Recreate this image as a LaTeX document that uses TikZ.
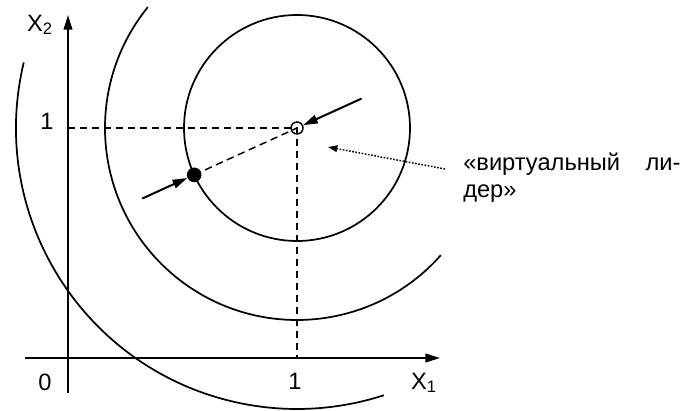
\documentclass[tikz,border=0pt]{standalone}
\usepackage{fontspec}
\setmainfont{Liberation Sans}
\usetikzlibrary{arrows.meta, positioning, calc}

\tikzset{
  curve/.style={line width=1.3pt},
  axis/.style={line width=1.4pt, -{Triangle[length=11pt, width=6.5pt]}},
  guide/.style={line width=1.1pt, dash pattern=on 5.5pt off 3.5pt},
  push/.style={line width=1.5pt, -{Triangle[length=11pt, width=6.5pt]}},
  pointer/.style={line width=1.1pt, dash pattern=on 1.2pt off 1.2pt, -{Triangle[length=7pt, width=5pt]}},
  leader/.style={circle, draw, line width=1.1pt, minimum size=9pt, inner sep=0pt},
  follower/.style={circle, fill, minimum size=11pt, inner sep=0pt},
  lbl/.style={font=\fontsize{17.75}{21}\selectfont, inner sep=0pt},
}

\begin{document}
\begin{tikzpicture}[x=0.75pt, y=0.75pt]
  \useasboundingbox (0,0) rectangle (691,410);
  % points
  \coordinate (O) at (68,52);
  \coordinate (Lc) at (297,282);
  \coordinate (Fc) at ($(Lc)+(204.5:113)$);
  \coordinate (fstart) at ($(Lc)+(204.5:170)$);
  \coordinate (lstart) at ($(Lc)+(24.5:71)$);
  \coordinate (ybot) at (68,17);
  \coordinate (ytop) at (68,395);
  \coordinate (xleft) at (25,52);
  \coordinate (xright) at (440,52);

  % level lines
  \draw[curve] (Lc) circle[radius=113];
  \draw[curve] (Lc) ++(141:192) arc[start angle=141, end angle=318.5, radius=192];
  \draw[curve] (Lc) ++(166.5:281) arc[start angle=166.5, end angle=288, radius=281];

  % axes
  \draw[axis] (ybot) -- (ytop);
  \draw[axis] (xleft) -- (xright);

  % guides
  \draw[guide] (Lc -| O) -- (Lc) -- (Lc |- O);
  \draw[guide] (Fc) -- (Lc);

  \node[leader] (L) at (Lc) {};
  \node[follower] (F) at (Fc) {};
  \draw[push] (fstart) -- (F);
  \draw[push] (lstart) -- (L);

  % labels
  \node[lbl] (x2) at (40,385) {X\textsubscript{2}};
  \node[lbl] (oney) at (47,289) {1};
  \node[lbl] (zero) at (45,28) {0};
  \node[lbl] (onex) at (295,29) {1};
  \node[lbl] (x1) at (424,27) {X\textsubscript{1}};

  \node[lbl, anchor=base west] (vl1) at (463,239)
    {\makebox[163pt][l]{«виртуальный\hfill ли-}};
  \node[lbl, anchor=base west] (vl2) at ([yshift=-20pt]vl1.base west) {дер»};
  \coordinate (vstart) at (445,241);
  \coordinate (vtip) at (328,263);
  \draw[pointer] (vstart) -- (vtip);
\end{tikzpicture}
\end{document}
